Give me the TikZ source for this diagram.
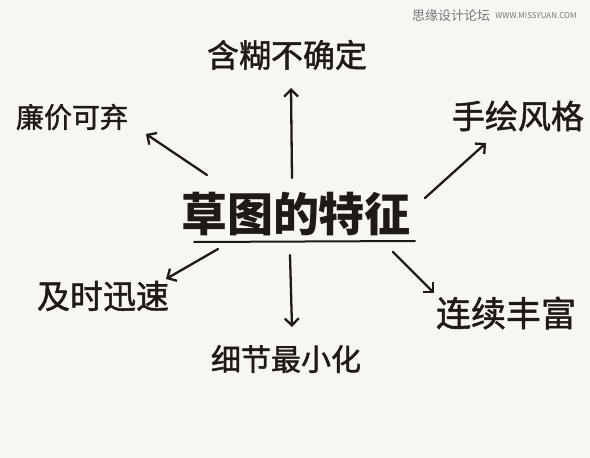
\documentclass[tikz,border=0pt]{standalone}
\usepackage{fontspec}
\usetikzlibrary{arrows.meta}
\newfontfamily\cjk{Noto Sans CJK SC}
\newfontfamily\cjkpen[FakeBold=1.4]{Noto Sans CJK SC}

\begin{document}
\begin{tikzpicture}[x=1pt,y=-1pt,>={Straight Barb[length=7pt,width=14pt]},
  ink/.style={line width=2.3pt,draw=cInk,line cap=round,line join=round},
  idea/.style={font={\cjkpen\fontsize{#1}{#1}\selectfont},text=cInk,inner sep=0pt}]

% colors
\definecolor{cPaper}{RGB}{247,246,242}
\definecolor{cInk}{RGB}{32,26,22}
\definecolor{cMark}{RGB}{118,118,118}

% paper
\fill[cPaper] (0,0) rectangle (590,458);
\useasboundingbox (0,0) rectangle (590,458);

% watermark
\node[font={\cjk\fontsize{13}{13}\selectfont},text=cMark,inner sep=0pt] (wmark) at (451,16) {思缘设计论坛};
\node[font={\cjk\fontsize{8}{8}\selectfont},text=cMark,inner sep=0pt] (wsite) at (536,16) {WWW.MISSYUAN.COM};

% central topic, underlined
\node[idea=46,font={\cjk\bfseries\fontsize{46}{46}\selectfont}] (title) at (296,214) {草图的特征};
\draw[ink,line width=2pt] (194,242) -- (415,241);

% branches
\node[idea=32] (vague) at (287,55) {含糊不确定};
\node[idea=28] (cheap) at (72,117) {廉价可弃};
\node[idea=33] (hand) at (518,116) {手绘风格};
\node[idea=33] (quick) at (103,296) {及时迅速};
\node[idea=30] (detail) at (286,359) {细节最小化};
\node[idea=35] (rich) at (506,313) {连续丰富};

% arrow ends
\coordinate (vague-in) at (291,88);
\coordinate (vague-out) at (292,178);
\coordinate (cheap-in) at (146,134);
\coordinate (cheap-out) at (207,175);
\coordinate (hand-in) at (486,143);
\coordinate (hand-out) at (425,198);
\coordinate (quick-in) at (166,279);
\coordinate (quick-out) at (218,249);
\coordinate (detail-in) at (292,327);
\coordinate (detail-out) at (290,255);
\coordinate (rich-in) at (434,293);
\coordinate (rich-out) at (393,252);

% arrows
\draw[ink,->] (vague-out) -- (vague-in);
\draw[ink,->] (cheap-out) -- (cheap-in);
\draw[ink,->] (hand-out) -- (hand-in);
\draw[ink,->] (quick-out) -- (quick-in);
\draw[ink,->] (detail-out) -- (detail-in);
\draw[ink,->] (rich-out) -- (rich-in);

\end{tikzpicture}
\end{document}
